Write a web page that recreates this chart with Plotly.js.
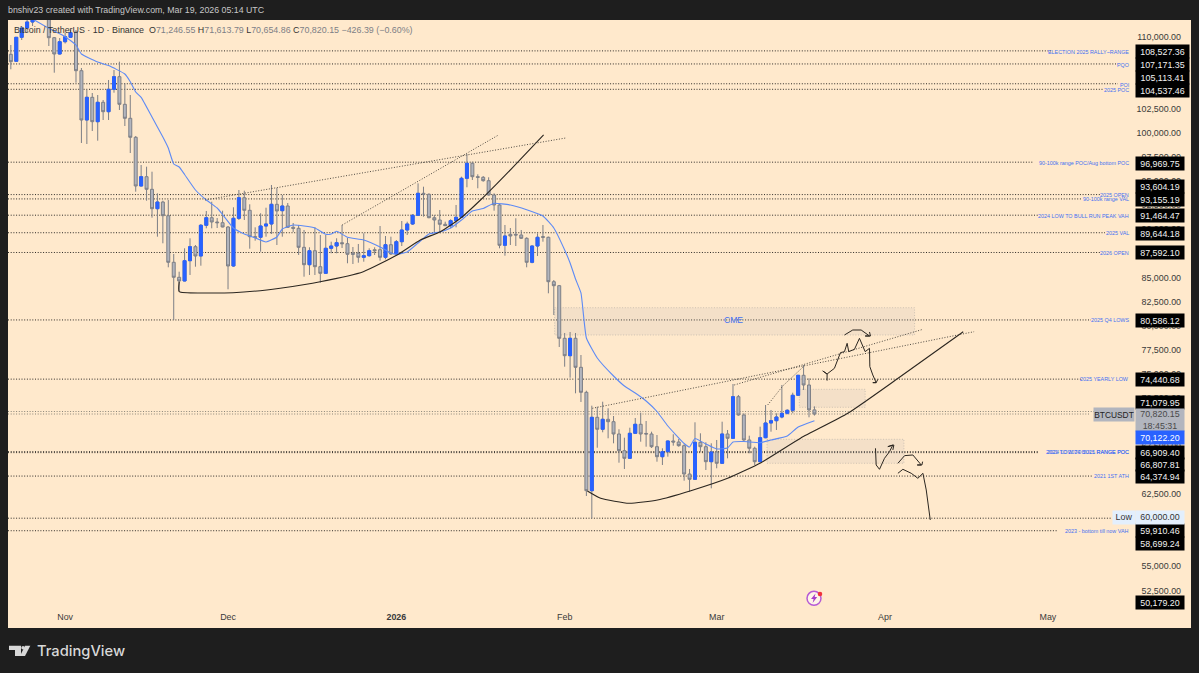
<!DOCTYPE html>
<html><head><meta charset="utf-8">
<script src="https://cdn.plot.ly/plotly-3.0.1.min.js"></script>
<style>html,body{margin:0;padding:0;background:#1e1e1e}#c{width:1199px;height:673px}</style></head>
<body><div id="c"></div>
<script>
// ---------- data ----------
const dates = ['2025-10-22','2025-10-23','2025-10-24','2025-10-25','2025-10-26','2025-10-27','2025-10-28','2025-10-29','2025-10-30','2025-10-31',
'2025-11-01','2025-11-02','2025-11-03','2025-11-04','2025-11-05','2025-11-06','2025-11-07','2025-11-08','2025-11-09','2025-11-10','2025-11-11','2025-11-12','2025-11-13','2025-11-14','2025-11-15','2025-11-16','2025-11-17','2025-11-18','2025-11-19','2025-11-20','2025-11-21','2025-11-22','2025-11-23','2025-11-24','2025-11-25','2025-11-26','2025-11-27','2025-11-28','2025-11-29','2025-11-30',
'2025-12-01','2025-12-02','2025-12-03','2025-12-04','2025-12-05','2025-12-06','2025-12-07','2025-12-08','2025-12-09','2025-12-10','2025-12-11','2025-12-12','2025-12-13','2025-12-14','2025-12-15','2025-12-16','2025-12-17','2025-12-18','2025-12-19','2025-12-20','2025-12-21','2025-12-22','2025-12-23','2025-12-24','2025-12-25','2025-12-26','2025-12-27','2025-12-28','2025-12-29','2025-12-30','2025-12-31',
'2026-01-01','2026-01-02','2026-01-03','2026-01-04','2026-01-05','2026-01-06','2026-01-07','2026-01-08','2026-01-09','2026-01-10','2026-01-11','2026-01-12','2026-01-13','2026-01-14','2026-01-15','2026-01-16','2026-01-17','2026-01-18','2026-01-19','2026-01-20','2026-01-21','2026-01-22','2026-01-23','2026-01-24','2026-01-25','2026-01-26','2026-01-27','2026-01-28','2026-01-29','2026-01-30','2026-01-31',
'2026-02-01','2026-02-02','2026-02-03','2026-02-04','2026-02-05','2026-02-06','2026-02-07','2026-02-08','2026-02-09','2026-02-10','2026-02-11','2026-02-12','2026-02-13','2026-02-14','2026-02-15','2026-02-16','2026-02-17','2026-02-18','2026-02-19','2026-02-20','2026-02-21','2026-02-22','2026-02-23','2026-02-24','2026-02-25','2026-02-26','2026-02-27','2026-02-28',
'2026-03-01','2026-03-02','2026-03-03','2026-03-04','2026-03-05','2026-03-06','2026-03-07','2026-03-08','2026-03-09','2026-03-10','2026-03-11','2026-03-12','2026-03-13','2026-03-14','2026-03-15','2026-03-16','2026-03-17','2026-03-18','2026-03-19'];
const opens = [108172,107446,109938,110903,111527,114500,114100,112900,109896,108204,
109480,109938,110488,106470,101350,103707,101174,103188,102212,104538,105846,102980,101527,99554,94497,95462,94154,92140,92835,91413,86574,85016,84632,86740,88193,87228,90416,91205,90759,90686,
90239,86190,91143,93282,91973,89232,89170,90343,90551,92596,91932,92420,90208,90104,88131,86325,87778,86117,85431,88027,88266,88609,88505,87520,87520,87092,87259,87880,87880,87092,88401,
87435,88713,89928,90551,91454,93738,93635,91205,90966,90520,90374,90893,91246,95296,96854,95462,95400,95047,93562,92524,88339,89480,89480,89408,89066,86574,88266,89240,89170,84559,84144,
78682,76875,78682,75670,73074,62856,70478,69233,70271,70022,68744,67011,66220,68816,69752,68800,68744,67425,66387,66906,68017,67914,67530,64590,64040,67883,67425,65868,
66875,65702,68744,68298,72617,70717,68121,67259,65868,68360,69887,70125,70509,70894,71205,72763,74840,73833,71246.55];
const highs = [109138,109969,111111,111734,115400,116000,116000,113600,109969,109865,
110400,110696,110696,106750,104465,104154,103946,103427,105504,106542,107404,105161,103946,99689,96677,96501,95982,93738,92970,93043,87436,85598,88027,89066,88370,90551,91901,92867,91174,91932,
90343,92285,94081,94009,92596,90208,91662,92243,94601,94289,93562,92732,90655,90447,89928,88131,90208,89408,89408,88712,89066,90447,89097,88162,88474,89585,88027,88131,90343,89304,89232,
88889,90862,90790,91589,94777,94424,93738,91485,92005,90790,91039,92524,95462,97820,97020,95711,95535,95400,93738,92628,90447,90135,91143,89928,89170,88316,89585,90447,89240,84735,84217,
79232,79336,79232,76947,73240,71684,71580,72098,71413,70613,69233,68360,69399,70405,70956,70094,68984,68640,67259,68050,68714,68224,67674,65110,69958,68816,67883,67778,
68121,70022,69160,73936,72794,70894,68567,67425,69503,71756,71237,70894,73833,71309,73033,74871,75909,74528,71613.79];
const lows = [106615,107425,109657,110488,111111,113800,111900,109034,106262,108152,
109294,109865,105223,98962,98858,100208,99200,101350,101350,104185,102389,100727,97923,93905,94450,92970,91205,89232,88546,86054,80582,83593,84600,85255,86117,86221,90104,90104,90135,90208,
83770,86100,90966,90966,87986,88817,87674,89232,89512,88370,89232,90135,89720,87332,85078,85255,85255,84455,85359,87508,87508,88059,86470,86397,86532,86636,87155,87332,86740,86885,87332,
87404,88266,89408,90447,91381,91309,91143,89585,89585,90343,90104,90208,91174,94362,95120,94258,94943,93500,91932,88027,87259,88370,88266,88993,86054,86470,87228,88712,83354,81101,77778,
75732,74590,72970,72068,62306,60000,67322,68920,68298,67778,65764,65110,66148,68744,67945,67425,67291,65868,65525,66387,67530,67425,63895,62753,63968,66906,65006,63105,
65183,65629,66220,68225,70645,68018,66740,65525,65800,68298,68984,69160,70374,70790,70894,72690,73312,70478,70654.86];
const closes = [107404,109938,110903,111527,114500,114100,112900,109896,108204,109481,
110000,110415,106470,101350,103707,101174,103188,102212,104538,105846,102980,101527,99554,94497,95462,94154,92140,92835,91413,86574,85016,84632,86740,88193,87228,90416,91205,90759,90686,90239,
86190,91143,93282,91973,89232,89170,90343,90551,92596,91901,92420,90208,90104,88131,86325,87778,86117,85431,88027,88266,88609,88505,87404,87404,87092,87259,87778,87778,87092,88401,87435,
88713,89928,90551,91454,93738,93635,91205,90966,90520,90374,90893,91246,95296,96854,95462,95400,95047,93562,92524,88339,89304,89304,89408,89066,86574,88266,89170,89170,84559,84144,78682,
76875,78682,75670,73074,62856,70478,69233,70271,70022,68744,67011,66220,68816,69752,68744,68744,67425,66387,66906,68017,67914,67530,64590,64040,67883,67425,65868,66875,
65702,68744,68298,72617,70717,68121,67259,65868,68360,69887,70125,70509,70894,71205,72763,74840,73833,71246,70820.15];

// moving average
const maDates = ['2025-10-26','2025-10-29','2025-11-01','2025-11-03','2025-11-04','2025-11-07','2025-11-09','2025-11-12','2025-11-13','2025-11-14','2025-11-15','2025-11-17','2025-11-19','2025-11-20','2025-11-21','2025-11-22','2025-11-23','2025-11-25','2025-11-27','2025-11-29','2025-11-30','2025-12-02','2025-12-04','2025-12-06','2025-12-08','2025-12-10','2025-12-11','2025-12-13','2025-12-15','2025-12-17','2025-12-19','2025-12-20','2025-12-21','2025-12-23','2025-12-26','2025-12-29','2025-12-31','2026-01-01','2026-01-03','2026-01-05','2026-01-07','2026-01-09','2026-01-11','2026-01-13','2026-01-15','2026-01-17','2026-01-19','2026-01-22','2026-01-25','2026-01-28','2026-01-30','2026-02-01','2026-02-02','2026-02-03','2026-02-04','2026-02-05','2026-02-07','2026-02-10','2026-02-12','2026-02-14','2026-02-16','2026-02-18','2026-02-20','2026-02-23','2026-02-24','2026-02-25','2026-02-27','2026-03-01','2026-03-03','2026-03-04','2026-03-06','2026-03-09','2026-03-11','2026-03-14','2026-03-16','2026-03-19'];
const maValues = [111838,110872,110000,109138,108204,107373,107000,106127,105327,104258,103707,101662,99585,98443,96781,96470,95691,94081,93043,92212,91537,90135,89512,89097,88682,89200,90031,90447,90343,90135,89481,89512,89792,89170,88889,88162,87540,87404,87643,88577,89512,89720,90135,90966,91901,92160,92700,92524,92035,91382,90135,87851,86500,84840,83386,78712,76636,74766,73727,73000,72170,71081,69575,67758,67395,68277,67705,67186,67290,67913,67965,67840,68120,68533,69470,70122.2];

// horizontal levels
const levelPrices = [108527.36,107171.35,105113.41,104537.46,96969.75,93604.19,93155.19,91464.47,89644.18,87592.10,80586.12,74440.68,71079.95,70820.15,66909.40,66807.81,64374.94,60000,58699.24];
const levelNames = ['ELECTION 2025 RALLY~RANGE','PQO','POI','2025 POC','90-100k range POC/Aug bottom POC','2025 OPEN','90-100k range VAL','2024 LOW TO BULL RUN PEAK VAH','2025 VAL','2026 OPEN','2025 Q4 LOWS','2025 YEARLY LOW','','','2024 LOW TO 2025 RANGE POC','2021 TO 2024 BULL RANGE POC','2021 1ST ATH','','2023 - bottom till now VAH'];

// price tags on the right-hand scale
const tagTexts = ['108,527.36','107,171.35','105,113.41','104,537.46','96,969.75','93,604.19','93,155.19','91,464.47','89,644.18','87,592.10','80,586.12','74,440.68','71,079.95','66,909.40','66,807.81','64,374.94','59,910.46','58,699.24','50,179.20'];

// axis ticks
const priceTicks = [50000,52500,55000,57500,60000,62500,65000,67500,70000,72500,75000,77500,80000,82500,85000,87500,90000,92500,95000,97500,100000,102500,105000,107500,110000];
const monthDates = ['2025-11-01','2025-12-01','2026-01-01','2026-02-01','2026-03-01','2026-04-01','2026-05-01'];
const monthLabels = ['Nov','Dec','<b>2026</b>','Feb','Mar','Apr','May'];

// drawings: days counted from 1 Dec 2025, and prices
const arc1Days = [-8.99,-8.99,-3.93,0.92,7.14,9.59,16.97,24.91,31.13,35.42,39.11,42.8,46.5,49.58,52.58,58.12];
const arc1Prices = [84559,83520,83386,83417,83697,83874,84559,85598,87332,88889,89751,91143,93043,94777,96500,99793];
const arc2Days = [66.18,68.63,73.86,79.1,85.24,92.01,98.15,105.5,114.15,123.4,135.4];
const arc2Prices = [62826,62067,61547,61891,62855,64143,65764,68329,70894,74528,79366];
const trendDays = [[-4.24,62.18],[21.03,49.82],[67.1,137.4],[93.23,127.99],[99.39,102.16,106.1]];
const trendPrices = [[93043,99481],[90447,99793],[71412,79366],[73833,79616],[71756,73729,75805]];
const scribbleDays = [
 [110.33,110.33,109.53,110.33,111.68,112.42,112.79,113.53,114.02,114.32,115.37,116.29,117.34,118.14,118.2,118.75,119.37,118.75,119.37,119.68],
 [113.53,115.06,116.6,118.14,117.34,118.32,118.14],
 [119.24,119.37,119.98,120.9,121.83,122.44,121.52,122.63,122.44],
 [123.37,124.6,126.13,127.67,126.93,127.79,127.92],
 [123.37,124.29,125.83,127.05,127.98,128.59,129.33]];
const scribblePrices = [
 [74284,74976,75287,74976,75564,76776,77191,77295,78160,77295,77537,78679,77295,77641,75737,74872,74076,74076,74076,74422],
 [79025,79544,79544,78921,78921,78921,79337],
 [67258,65527,65077,66220,66912,67604,67431,67604,67085],
 [65700,66496,66566,65527,65527,65527,65874],
 [64662,65077,64662,64143,64662,62932,59817]];
const zoneDays = [[60.15,126.44],[105.22,117.34],[99.26,124.48]];
const zonePrices = [[81859,79024],[73386,71516],[68193,65702]];

// ---------- layout helpers ----------
const W = 1199, H = 673, L = 8, R = 1191, T = 20, B = 628;
const day = d => new Date(Date.UTC(2025,11,1) + d*864e5).toISOString().slice(0,19).replace('T',' ');
const px = x => (x-L)/(R-L);
const py = y => (B-y)/(B-T);

const BG='#ffe9cc', DARK='#1e1e1e', BLUE='#2962ff', TXT='#3a3a3a', LBL='#4470f2';
const FONT='"Liberation Sans", Arial, sans-serif';
const FS=8.9;

// candles: all candles with gray outline/wick, then blue bodies over the up candles
const upIdx = dates.map((d,i)=>closes[i]>=opens[i]?i:-1).filter(i=>i>=0);
const traces = [
 {type:'candlestick',x:dates,open:opens,high:highs,low:lows,close:closes,whiskerwidth:0,hoverinfo:'skip',
  increasing:{line:{color:'#7d7f86',width:1},fillcolor:BLUE},
  decreasing:{line:{color:'#7d7f86',width:1},fillcolor:'#b2b5be'},showlegend:false},
 {type:'candlestick',x:upIdx.map(i=>dates[i]),open:upIdx.map(i=>opens[i]),close:upIdx.map(i=>closes[i]),
  high:upIdx.map(i=>closes[i]),low:upIdx.map(i=>opens[i]),whiskerwidth:0,hoverinfo:'skip',
  increasing:{line:{color:BLUE,width:1},fillcolor:BLUE},
  decreasing:{line:{color:BLUE,width:1},fillcolor:BLUE},showlegend:false},
 {type:'scatter',mode:'lines',x:maDates,y:maValues,line:{color:'#5d8af5',width:1.1,shape:'spline',smoothing:0.4},hoverinfo:'skip',showlegend:false},
 {type:'scatter',mode:'lines',x:arc1Days.map(day),y:arc1Prices,line:{color:'#2b2620',width:1.1,shape:'spline',smoothing:0.5},hoverinfo:'skip',showlegend:false},
 {type:'scatter',mode:'lines',x:arc2Days.map(day),y:arc2Prices,line:{color:'#2b2620',width:1.1,shape:'spline',smoothing:0.5},hoverinfo:'skip',showlegend:false}
];
trendDays.forEach((dd,i)=>traces.push({type:'scatter',mode:'lines',x:dd.map(day),y:trendPrices[i],
  line:{color:'#4f4a42',width:1,dash:'1px,1.7px'},hoverinfo:'skip',showlegend:false}));
scribbleDays.forEach((dd,i)=>traces.push({type:'scatter',mode:'lines',x:dd.map(day),y:scribblePrices[i],
  line:{color:'#2b2620',width:1},hoverinfo:'skip',showlegend:false}));

// horizontal level lines end where their blue label begins
const levelLineEnds = [1051,1118,1118,1104,1033,1100,1081,1039,1105,1100,1091,1082,1133,1090,1038,1038,1093,1111,1057];
const shapes = [];
zoneDays.forEach((dd,i)=>shapes.push({type:'rect',layer:'below',xref:'x',yref:'y',x0:day(dd[0]),x1:day(dd[1]),y0:zonePrices[i][0],y1:zonePrices[i][1],
  fillcolor:'rgba(170,170,180,0.13)',line:{color:'rgba(150,150,150,0.45)',width:1,dash:'1px,1.7px'}}));
levelPrices.forEach((p,i)=>shapes.push({type:'line',layer:'below',xref:'paper',yref:'y',x0:0,x1:px(levelLineEnds[i]),y0:p,y1:p,
  line:{color:(i===12||i===13)?'#8a8578':'#2d2a26',width:1,dash:'1px,1.7px'}}));
// TradingView mark
const ink='#d8d8d8';
shapes.push({type:'path',xref:'paper',yref:'paper',fillcolor:ink,line:{width:0},
  path:`M${px(9)},${py(645.7)} L${px(21)},${py(645.7)} L${px(21)},${py(656)} L${px(15)},${py(656)} L${px(15)},${py(650)} L${px(9)},${py(650)} Z`});
shapes.push({type:'path',xref:'paper',yref:'paper',fillcolor:ink,line:{width:0},
  path:`M${px(25)},${py(645.7)} L${px(30.3)},${py(645.7)} L${px(25)},${py(656)} L${px(20)},${py(656)} Z`});
shapes.push({type:'circle',xref:'paper',yref:'paper',fillcolor:ink,line:{width:0},x0:px(21.3),x1:px(24.7),y0:py(649.5),y1:py(646)});
// event icon
shapes.push({type:'circle',xref:'paper',yref:'paper',fillcolor:'rgba(255,255,255,0.55)',line:{color:'#b65bd5',width:1.5},x0:px(807),x1:px(821),y0:py(605.3),y1:py(591.3)});
shapes.push({type:'circle',xref:'paper',yref:'paper',fillcolor:'#f0333c',line:{width:0},x0:px(817.7),x1:px(822.3),y0:py(596.3),y1:py(591.7)});
shapes.push({type:'path',xref:'paper',yref:'paper',fillcolor:'#a83ecb',line:{width:0},
  path:`M${px(815.5)},${py(593.5)} L${px(811)},${py(599)} L${px(813.6)},${py(599)} L${px(812.6)},${py(603)} L${px(817.2)},${py(597)} L${px(814.7)},${py(597)} Z`});

const anns = [];
const note = (x,y,text,o={}) => anns.push(Object.assign({xref:'paper',yref:'paper',x:px(x),y:py(y),text,showarrow:false,xanchor:'left',yanchor:'middle',
   font:{family:FONT,size:FS,color:TXT},borderpad:0},o));
note(7,10,'bnshiv23 created with TradingView.com, Mar 19, 2026 05:14 UTC',{font:{family:FONT,size:8.8,color:'#c8c8c8'}});
const V = s=>`<span style="color:#7d7f86">${s}</span>`;
note(13,30,`Bitcoin / TetherUS · 1D · Binance  O${V('71,246.55')} H${V('71,613.79')} L${V('70,654.86')} C${V('70,820.15')} ${V('−426.39 (−0.60%)')}`,{font:{family:FONT,size:8.9,color:'#333'}});
note(36,651,'TradingView',{font:{family:'Inter, "Liberation Sans", sans-serif',size:14.7,weight:500,color:ink}});
note(733,320.5,'CME',{xanchor:'center',font:{family:FONT,size:8.6,color:LBL}});

// level labels
const labelYs = [51.5,65,84.5,90,163,194.5,198.5,215.7,233.3,252.7,320.5,379.5,0,0,451.5,451.5,476,0,530.5];
levelNames.forEach((n,i)=>{ if(n) note(1130,labelYs[i],n,{xanchor:'right',font:{family:FONT,size:5.4,color:LBL}}); });

// tags
const tagYs = [51.7,64.3,77.3,90,163,186.7,199.3,215.7,233.3,252.7,320.7,379.3,402.3,452,464.3,476.7,530.3,543,602.3];
tagTexts.forEach((t,i)=>note(1135,tagYs[i],t,{width:t.length>9?53:48,height:13,align:'center',valign:'middle',bgcolor:'#000',
   font:{family:FONT,size:FS,color:'#f2f2f2'}}));
note(1135,420,'70,820.15<br>18:45:31',{width:48,height:21.5,align:'center',valign:'middle',bgcolor:'#b2b5be',font:{family:FONT,size:FS,color:'#4a4a4a'}});
note(1135,437,'70,122.20',{width:48,height:13,align:'center',valign:'middle',bgcolor:BLUE,font:{family:FONT,size:FS,color:'#fff'}});
note(1135,517.7,'60,000.00',{width:48,height:12.5,align:'center',valign:'middle',bgcolor:'#e3effd',font:{family:FONT,size:FS,color:'#333'}});
note(1112,517.7,'Low',{width:22,height:12.5,align:'center',valign:'middle',bgcolor:'#e3effd',font:{family:FONT,size:FS,color:'#333'}});
note(1093,414.7,'BTCUSDT',{width:40,height:13,align:'center',valign:'middle',bgcolor:'#b2b5be',font:{family:FONT,size:8.4,color:'#222'}});

const layout = {
  width:W,height:H,autosize:false,
  paper_bgcolor:DARK,plot_bgcolor:BG,
  margin:{l:L,r:W-R,t:T,b:H-B,pad:0},
  boxgap:0.22,dragmode:false,showlegend:false,
  font:{family:FONT,size:FS,color:TXT},
  xaxis:{type:'date',range:['2025-10-21 11:30:00','2026-05-27 08:24:00'],rangeslider:{visible:false},
    tickmode:'array',tickvals:monthDates,ticktext:monthLabels,ticks:'',showgrid:false,zeroline:false,showline:false,
    ticklabelposition:'inside',tickfont:{family:FONT,size:FS,color:TXT},ticklabelstandoff:3},
  yaxis:{side:'right',range:[48598,111734],tickmode:'array',tickvals:priceTicks,
    ticktext:priceTicks.map(v=>v.toLocaleString('en-US',{minimumFractionDigits:2})),
    ticks:'',showgrid:false,zeroline:false,showline:false,ticklabelposition:'inside',
    tickfont:{family:FONT,size:FS,color:TXT},ticklabelstandoff:7},
  shapes,annotations:anns
};
Plotly.newPlot('c',traces,layout,{displayModeBar:false,staticPlot:true});
</script></body></html>
